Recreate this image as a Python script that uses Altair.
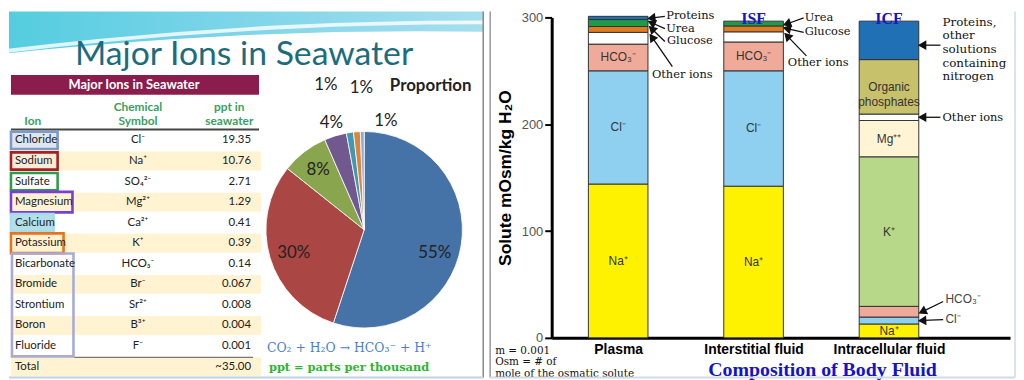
import math
import altair as alt
import pandas as pd

# ---------------- Left panel: major ions in seawater ----------------
ions = ["Chloride", "Sodium", "Sulfate", "Magnesium", "Calcium", "Potassium",
        "Bicarbonate", "Bromide", "Strontium", "Boron", "Fluoride", "Total"]
symbols = ["Cl⁻", "Na⁺", "SO₄²⁻", "Mg²⁺", "Ca²⁺", "K⁺", "HCO₃⁻", "Br⁻", "Sr²⁺", "B³⁺", "F⁻", ""]
ppt_labels = ["19.35", "10.76", "2.71", "1.29", "0.41", "0.39", "0.14", "0.067",
              "0.008", "0.004", "0.001", "~35.00"]
ppt_values = [19.35, 10.76, 2.71, 1.29, 0.41, 0.39, 0.14, 0.067, 0.008, 0.004, 0.001]

pie_groups = ["Chloride", "Sodium", "Sulfate", "Magnesium", "Calcium", "Potassium", "Others"]
pie_values = ppt_values[:6] + [round(sum(ppt_values[6:]), 3)]
pie_labels = ["55%", "30%", "8%", "4%", "1%", "1%", "1%"]
pie_colors = ["#4572a7", "#aa4643", "#89a54e", "#71588f", "#4198af", "#db843d", "#93a9cf"]

# ---------------- Right panel: composition of body fluid ----------------
fluids = ["Plasma", "Interstitial fluid", "Intracellular fluid"]
plasma_parts = ["Na", "Cl", "HCO3", "Other ions", "Glucose", "Urea", "Proteins"]
plasma_values = [144, 106, 25, 11, 5.5, 6.5, 3]
isf_parts = ["Na", "Cl", "HCO3", "Other ions", "Glucose", "Urea"]
isf_values = [142, 108, 27, 9.5, 5.5, 4.5]
icf_parts = ["Na", "Cl", "HCO3", "K", "Mg", "Other ions", "Organic phosphates", "Proteins"]
icf_values = [13, 6.5, 10, 140, 34, 6, 51, 36]
part_names = ["Na", "Cl", "HCO3", "Other ions", "Glucose", "Urea", "Proteins", "K", "Mg",
              "Organic phosphates"]
part_colors = ["#fff200", "#8fd0f0", "#f0aa9a", "#ffffff", "#e07b22", "#1f9a4b", "#1f70b4",
               "#b7d888", "#fff5d4", "#c8c16b"]
part_text = {"Na": "Na⁺", "Cl": "Cl⁻", "HCO3": "HCO₃⁻", "K": "K⁺", "Mg": "Mg⁺⁺",
             "Organic phosphates": "Organic\nphosphates"}

# annotation labels (text, x in bar units, y in mOsm)
serif_labels = ["Proteins", "Urea", "Glucose", "Other ions", "Urea", "Glucose", "Other ions", "Other ions"]
serif_x = [0.355, 0.355, 0.36, 0.249, 1.377, 1.377, 1.253, 2.395]
serif_y = [301, 289.5, 277.5, 246, 299.5, 286, 257.3, 206.2]
icf_note = "Proteins,\nother\nsolutions\ncontaining\nnitrogen"
sans_labels = ["HCO₃⁻", "Cl⁻"]
sans_x = [2.417, 2.417]
sans_y = [36.2, 17.6]
# arrows: tail -> head
arrow_x0 = [0.345, 0.345, 0.345, 0.40, 1.37, 1.37, 1.39, 2.38, 2.38, 2.40, 2.40]
arrow_y0 = [301, 289.5, 277.5, 254, 299.5, 286, 264, 274, 206.5, 34, 17]
arrow_x1 = [0.255, 0.255, 0.255, 0.255, 1.255, 1.255, 1.255, 2.255, 2.255, 2.255, 2.255]
arrow_y1 = [299.5, 294.5, 288.5, 280.5, 294.3, 289.3, 281.8, 274, 206.5, 25, 16.3]

SANS = "Liberation Sans"
SERIF = "DejaVu Serif"
LATO = "Lato"

# ======================= LEFT CHART =======================
WL, HL = 478, 369
ys_table = alt.Scale(domain=[0, 11], range=[130, 358], nice=False, zero=False)

table = pd.DataFrame({"row": list(range(12)), "ion": ions, "sym": symbols, "val": ppt_labels})
table["r0"] = table["row"] - 0.46
table["r1"] = table["row"] + 0.46

base_px = alt.Chart(pd.DataFrame({"a": [0]}))

wave = base_px.mark_rect(fill={"gradient": "linear", "x1": 0, "y1": 0, "x2": 1, "y2": 0,
                               "stops": [{"offset": 0, "color": "#55cde0"},
                                         {"offset": 0.5, "color": "#7fd5e9"},
                                         {"offset": 1, "color": "#a6dfee"}]}).encode(
    x=alt.value(0), x2=alt.value(WL), y=alt.value(0), y2=alt.value(52))
dome = base_px.mark_arc(fill="white", outerRadius=3869, clip=True).encode(
    x=alt.value(412), y=alt.value(3889), theta=alt.value(0), theta2=alt.value(6.2832))
swoosh = base_px.mark_arc(fill="white", outerRadius=3880, innerRadius=3876, clip=True,
                          opacity=0.8).encode(
    x=alt.value(470), y=alt.value(3889), theta=alt.value(0), theta2=alt.value(6.2832))

title = base_px.mark_text(font=LATO, fontSize=34, color="#1d6c7d").encode(
    x=alt.value(237), y=alt.value(44), text=alt.value("Major Ions in Seawater"))

hdr_bar = base_px.mark_rect(color="#8b1d4c").encode(
    x=alt.value(2), x2=alt.value(252), y=alt.value(64), y2=alt.value(84))
hdr_txt = base_px.mark_text(font=LATO, fontSize=13, fontWeight="bold", color="white").encode(
    x=alt.value(126), y=alt.value(74), text=alt.value("Major Ions in Seawater"))

col_df = pd.DataFrame({"t": ["Ion", "Chemical", "Symbol", "ppt in", "seawater"],
                       "cx": [24, 130, 130, 222, 222], "cy": [110, 96.5, 110.5, 96.5, 110.5]})
col_txt = alt.Chart(col_df).mark_text(font=LATO, fontSize=12, fontWeight="bold",
                                      color="#3a9e5e").encode(
    x=alt.X("cx:Q", scale=None), y=alt.Y("cy:Q", scale=None), text="t:N")
hdr_line = base_px.mark_rule(color="#444", strokeWidth=2).encode(
    x=alt.value(2), x2=alt.value(252), y=alt.value(119))

stripes = alt.Chart(table).transform_filter("datum.row % 2 == 1").mark_rect(color="#fff3d2").encode(
    x=alt.value(2), x2=alt.value(254),
    y=alt.Y("r0:Q", scale=ys_table, axis=None), y2="r1:Q")

box_df = pd.DataFrame({
    "r0": [0 - 0.42, 1 - 0.42, 2 - 0.42, 3 - 0.5, 4 - 0.42, 5 - 0.48, 6 - 0.5],
    "r1": [0 + 0.42, 1 + 0.42, 2 + 0.42, 3 + 0.5, 4 + 0.42, 5 + 0.48, 10 + 0.5],
    "x0": [2, 2, 2, 2, 2, 2, 3], "x1": [49, 49, 49, 64, 45, 55, 65],
    "st": ["#7d9bc1", "#a52020", "#2f9a4c", "#7a3fd2", "#a9dce8", "#e8721e", "#a9abd4"],
    "fi": ["#dde6f1", "#fbecd8", "#ffffff", "#fff3d2", "#b2e0ea", "#fff3d2", "transparent"],
})
boxes = alt.Chart(box_df).mark_rect(strokeWidth=2.6).encode(
    x=alt.X("x0:Q", scale=None), x2="x1:Q",
    y=alt.Y("r0:Q", scale=ys_table, axis=None), y2="r1:Q",
    stroke=alt.Stroke("st:N", scale=None), fill=alt.Fill("fi:N", scale=None))

name_txt = alt.Chart(table).mark_text(font=LATO, fontSize=11.5, align="left", color="#222").encode(
    x=alt.value(6), y=alt.Y("row:Q", scale=ys_table, axis=None), text="ion:N")
sym_txt = alt.Chart(table).mark_text(font=LATO, fontSize=11.5, color="#222").encode(
    x=alt.value(130), y=alt.Y("row:Q", scale=ys_table, axis=None), text="sym:N")
val_txt = alt.Chart(table).mark_text(font=LATO, fontSize=11.5, align="right", color="#222").encode(
    x=alt.value(244), y=alt.Y("row:Q", scale=ys_table, axis=None), text="val:N")
total_line = alt.Chart(pd.DataFrame({"r": [10.55]})).mark_rule(color="#777", strokeWidth=1.5).encode(
    x=alt.value(66), x2=alt.value(246), y=alt.Y("r:Q", scale=ys_table, axis=None))

pie_df = pd.DataFrame({"i": list(range(7)), "group": pie_groups, "value": pie_values,
                       "label": pie_labels})
PCX, PCY = 358, 220
pie = alt.Chart(pie_df).mark_arc(outerRadius=99, stroke="white", strokeWidth=0.8).encode(
    x=alt.value(PCX), y=alt.value(PCY),
    theta=alt.Theta("value:Q", stack=True),
    order=alt.Order("i:Q"),
    color=alt.Color("group:N", scale=alt.Scale(domain=pie_groups, range=pie_colors), legend=None))

label_r = [72, 74, 76, 113, 148, 146, 113]
label_dx = [0, 0, 0, 0, -17, 8, 24]
label_dy = [12, 2, 0, 0, 1, 3, 3]
pie_texts = []
for k in range(7):
    pie_texts.append(
        alt.Chart(pie_df)
        .transform_window(cum="sum(value)", sort=[alt.SortField("i")])
        .transform_joinaggregate(total="sum(value)")
        .transform_calculate(mid="2*PI*(datum.cum - datum.value/2)/datum.total")
        .transform_filter(f"datum.i == {k}")
        .mark_text(font=LATO, fontSize=17, color="#222", dx=label_dx[k], dy=label_dy[k])
        .encode(x=alt.value(PCX), y=alt.value(PCY),
                theta=alt.Theta("mid:Q", scale=None),
                radius=alt.value(label_r[k]), text="label:N"))

prop_txt = base_px.mark_text(font=LATO, fontSize=17, fontWeight="bold", color="#222").encode(
    x=alt.value(425), y=alt.value(75), text=alt.value("Proportion"))
eq_txt = base_px.mark_text(font=SERIF, fontSize=12.5, color="#4a7fd0", align="left").encode(
    x=alt.value(260), y=alt.value(339), text=alt.value("CO₂ + H₂O → HCO₃⁻ + H⁺"))
ppt_txt = base_px.mark_text(font=SERIF, fontSize=11.5, fontWeight="bold", color="#2db52d",
                            align="left").encode(
    x=alt.value(262), y=alt.value(359), text=alt.value("ppt = parts per thousand"))

border_r = base_px.mark_rule(color="#8a8a8a", strokeWidth=1.5).encode(
    x=alt.value(478), y=alt.value(0), y2=alt.value(369))
border_b = base_px.mark_rule(color="#bcd4e6", strokeWidth=2).encode(
    x=alt.value(0), x2=alt.value(478), y=alt.value(369))

left = alt.layer(wave, dome, swoosh, title, hdr_bar, hdr_txt, col_txt, hdr_line, stripes, boxes,
                 name_txt, sym_txt, val_txt, total_line, pie, *pie_texts, prop_txt, eq_txt,
                 ppt_txt, border_r, border_b).properties(width=WL, height=HL)

# ======================= RIGHT CHART =======================
WR, HR = 462, 329
X_DOM = [-0.491, 2.894]
PXU = WR / (X_DOM[1] - X_DOM[0])
PYU = (HR - 6) / 300
xs = alt.Scale(domain=X_DOM, nice=False, zero=False)
ys = alt.Scale(domain=[0, 300], range=[HR, 6], nice=False)

rows = []
for fi, (parts, vals) in enumerate([(plasma_parts, plasma_values), (isf_parts, isf_values),
                                    (icf_parts, icf_values)]):
    acc = 0.0
    for k, (p, v) in enumerate(zip(parts, vals)):
        rows.append({"fluid": fluids[fi], "idx": fi, "part": p, "value": v, "order": k,
                     "y0": acc, "y1": acc + v, "ymid": acc + v / 2,
                     "inner": part_text.get(p, "") if v >= 12 else ""})
        acc += v
bar_df = pd.DataFrame(rows)

x_axis = alt.Axis(values=[0, 1, 2], title=None, ticks=False, grid=False,
                  labelExpr="['Plasma','Interstitial fluid','Intracellular fluid'][datum.value]",
                  domainWidth=3, domainColor="black", labelFont=SANS, labelFontSize=14,
                  labelFontWeight="bold", labelColor="black", labelPadding=5,
                  labelFlush=False, labelOverlap=False)
y_axis = alt.Axis(values=[0, 100, 200, 300], title="Solute  mOsm/kg  H₂O", grid=False,
                  titleFont=SANS, titleFontSize=17.5, titleFontWeight="bold", titleColor="black",
                  titlePadding=7, tickSize=7, tickWidth=2, tickColor="black",
                  domainWidth=3, domainColor="black", labelColor="#555", labelFont=SANS,
                  labelFontSize=13, labelPadding=2)

bars = alt.Chart(bar_df).transform_calculate(
    xl="datum.idx - 0.22", xr="datum.idx + 0.22").mark_bar(stroke="#333", strokeWidth=1).encode(
    x=alt.X("xl:Q", scale=xs, axis=x_axis), x2="xr:Q",
    y=alt.Y("y0:Q", scale=ys, axis=y_axis), y2="y1:Q",
    color=alt.Color("part:N", scale=alt.Scale(domain=part_names, range=part_colors), legend=None))

inner = alt.Chart(bar_df).transform_filter("datum.inner != ''").mark_text(
    font=SANS, fontSize=12, color="#333", lineBreak="\n", lineHeight=15).encode(
    x=alt.X("idx:Q", scale=xs), y=alt.Y("ymid:Q", scale=ys), text="inner:N")

arr_df = pd.DataFrame({"x0": arrow_x0, "y0": arrow_y0, "x1": arrow_x1, "y1": arrow_y1})
arr_df["ang"] = [
    (math.degrees(math.atan2((b - a) * PXU, (d - c) * PYU)) + 360) % 360
    for a, b, c, d in zip(arrow_x0, arrow_x1, arrow_y0, arrow_y1)]
arr_lines = alt.Chart(arr_df).mark_rule(color="#111", strokeWidth=1.3).encode(
    x=alt.X("x0:Q", scale=xs), x2="x1:Q", y=alt.Y("y0:Q", scale=ys), y2="y1:Q")
arr_heads = alt.Chart(arr_df).mark_point(shape="triangle", filled=True, size=95, color="#111",
                                         opacity=1).encode(
    x=alt.X("x1:Q", scale=xs), y=alt.Y("y1:Q", scale=ys), angle=alt.Angle("ang:Q", scale=None))

serif_df = pd.DataFrame({"t": serif_labels, "x": serif_x, "y": serif_y})
serif_txt = alt.Chart(serif_df).mark_text(font=SERIF, fontSize=11.5, align="left", color="#111").encode(
    x=alt.X("x:Q", scale=xs), y=alt.Y("y:Q", scale=ys), text="t:N")
note_txt = alt.Chart(pd.DataFrame({"t": [icf_note], "x": [2.395], "y": [300.5]})).mark_text(
    font=SERIF, fontSize=12, align="left", baseline="top", lineBreak="\n", lineHeight=13.7,
    color="#111").encode(x=alt.X("x:Q", scale=xs), y=alt.Y("y:Q", scale=ys), text="t:N")
sans_df = pd.DataFrame({"t": sans_labels, "x": sans_x, "y": sans_y})
sans_txt = alt.Chart(sans_df).mark_text(font=SANS, fontSize=12, align="left", color="#444").encode(
    x=alt.X("x:Q", scale=xs), y=alt.Y("y:Q", scale=ys), text="t:N")

fl_df = pd.DataFrame({"t": ["ISF", "ICF"], "x": [1, 2], "y": [298.5, 298.5]})
fl_txt = alt.Chart(fl_df).mark_text(font="Liberation Serif", fontSize=16, fontWeight="bold",
                                    color="#1515c8").encode(
    x=alt.X("x:Q", scale=xs), y=alt.Y("y:Q", scale=ys), text="t:N")

rbase = alt.Chart(pd.DataFrame({"a": [0]}))
comp_title = rbase.mark_text(font="Liberation Serif", fontSize=20, fontWeight="bold",
                             color="#1414c8").encode(
    x=alt.value(273), y=alt.value(361), text=alt.value("Composition of Body Fluid"))
notes = alt.Chart(pd.DataFrame({"t": ["m = 0.001", "Osm = # of", "mole of the osmatic solute"],
                                "py": [342, 353.5, 365]})).mark_text(
    font=SERIF, fontSize=10.5, align="left", color="#111").encode(
    x=alt.value(-57), y=alt.Y("py:Q", scale=None), text="t:N")

rb_left = rbase.mark_rule(color="#999", strokeWidth=1.5).encode(
    x=alt.value(-62), y=alt.value(0), y2=alt.value(369))
rb_right = rbase.mark_rule(color="#cfdbe6", strokeWidth=1.5).encode(
    x=alt.value(467), y=alt.value(0), y2=alt.value(369))
rb_bottom = rbase.mark_rule(color="#cfdbe6", strokeWidth=2).encode(
    x=alt.value(-62), x2=alt.value(467), y=alt.value(369))

right = alt.layer(bars, inner, arr_lines, arr_heads, serif_txt, note_txt, sans_txt, fl_txt,
                  comp_title, notes, rb_left, rb_right, rb_bottom).properties(width=WR, height=HR)

chart = alt.hconcat(left, right, spacing=69, bounds="flush").resolve_scale(
    color="independent").properties(
    padding=0, background="white").configure_view(stroke=None)

chart.save("out.html", embed_options={"renderer": "svg", "actions": False})
